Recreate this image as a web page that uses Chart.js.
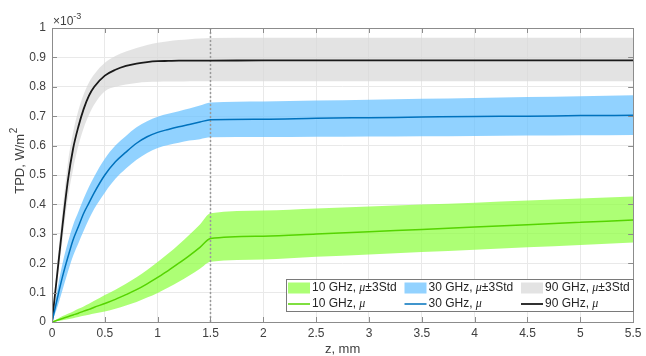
<!DOCTYPE html>
<html>
<head>
<meta charset="utf-8">
<script src="https://cdn.jsdelivr.net/npm/chart.js@4.4.1/dist/chart.umd.min.js"></script>
<style>
  html, body { margin: 0; padding: 0; background: #fff; }
  #wrap { width: 646px; height: 356px; }
</style>
</head>
<body>
<div id="wrap"><canvas id="tpdChart" width="646" height="356"></canvas></div>
<script>
'use strict';

// depth z, mm
const zPos = [0, 0.05, 0.1, 0.15, 0.2, 0.25, 0.3, 0.35, 0.4, 0.5, 0.6, 0.7, 0.8, 0.9, 1.0,
  1.1, 1.2, 1.3, 1.4, 1.5, 2, 2.5, 3, 3.5, 4, 4.5, 5, 5.5];

// TPD values in units of 1e-3 W/m^2
const mean10 = [0, 0.006, 0.012, 0.018, 0.024, 0.03, 0.037, 0.043, 0.05, 0.063, 0.077, 0.093, 0.11, 0.13, 0.152,
  0.175, 0.2, 0.226, 0.254, 0.284, 0.292, 0.299, 0.307, 0.315, 0.323, 0.331, 0.339, 0.347];
const upper10 = [0, 0.01, 0.02, 0.028, 0.036, 0.045, 0.053, 0.062, 0.072, 0.092, 0.11, 0.13, 0.152, 0.177, 0.204,
  0.233, 0.264, 0.297, 0.332, 0.37, 0.379, 0.386, 0.393, 0.4, 0.406, 0.413, 0.42, 0.427];
const lower10 = [0, 0.003, 0.006, 0.009, 0.013, 0.017, 0.021, 0.025, 0.029, 0.036, 0.045, 0.056, 0.068, 0.083, 0.099,
  0.117, 0.137, 0.158, 0.181, 0.205, 0.213, 0.222, 0.23, 0.238, 0.246, 0.254, 0.262, 0.27];

const mean30 = [0, 0.08, 0.155, 0.22, 0.28, 0.325, 0.37, 0.405, 0.44, 0.5, 0.545, 0.578, 0.608, 0.63, 0.645,
  0.655, 0.664, 0.672, 0.68, 0.688, 0.69, 0.693, 0.695, 0.697, 0.699, 0.7, 0.702, 0.703];
const upper30 = [0, 0.11, 0.2, 0.27, 0.33, 0.375, 0.42, 0.46, 0.495, 0.555, 0.6, 0.633, 0.662, 0.683, 0.698,
  0.708, 0.717, 0.726, 0.736, 0.747, 0.75, 0.753, 0.756, 0.759, 0.762, 0.765, 0.768, 0.771];
const lower30 = [0, 0.05, 0.11, 0.17, 0.225, 0.268, 0.31, 0.35, 0.385, 0.44, 0.487, 0.522, 0.552, 0.575, 0.592,
  0.602, 0.61, 0.617, 0.622, 0.628, 0.629, 0.63, 0.631, 0.632, 0.633, 0.634, 0.635, 0.636];

const mean90 = [0, 0.165, 0.33, 0.48, 0.59, 0.665, 0.725, 0.77, 0.8, 0.838, 0.858, 0.871, 0.879, 0.884, 0.887,
  0.888, 0.889, 0.889, 0.889, 0.889, 0.89, 0.89, 0.89, 0.89, 0.89, 0.89, 0.89, 0.89];
const upper90 = [0, 0.2, 0.38, 0.54, 0.645, 0.72, 0.775, 0.815, 0.843, 0.882, 0.905, 0.92, 0.932, 0.942, 0.95,
  0.955, 0.959, 0.962, 0.964, 0.966, 0.967, 0.967, 0.967, 0.967, 0.967, 0.967, 0.967, 0.967];
const lower90 = [0, 0.14, 0.28, 0.42, 0.52, 0.6, 0.66, 0.705, 0.74, 0.785, 0.8, 0.808, 0.813, 0.816, 0.817,
  0.818, 0.818, 0.819, 0.819, 0.819, 0.819, 0.819, 0.819, 0.819, 0.819, 0.819, 0.819, 0.819];

// dotted boundary line at z = 1.5 mm
const boundaryZ = [1.5, 1.5];
const boundaryY = [0, 1];

const freqNames = ['10 GHz', '30 GHz', '90 GHz'];
const xTickStep = 0.5;
const yTickStep = 0.1;

const lineColors = ['#55d400', '#0072bd', '#1a1a1a'],
  bandFills = ['rgba(138,255,58,0.7)', 'rgba(99,191,255,0.7)', 'rgba(215,215,215,0.7)'],
  bandSwatch = ['#adff75', '#92d2ff', '#e3e3e3'],
  axisColor = '#8c8c8c',
  textColor = '#404040',
  fontFamily = '"Liberation Sans", Arial, Helvetica, sans-serif';

const toPoints = (xs, ys) => xs.map((x, i) => ({ x: x, y: ys[i] }));
const tickText = v => String(Math.round(v * 100) / 100);

const bandSets = [[upper10, lower10], [upper30, lower30], [upper90, lower90]],
  meanSets = [mean10, mean30, mean90];

let datasets = [];

meanSets.forEach((m, i) => {
  datasets.push({
    label: freqNames[i] + ' mean',
    data: toPoints(zPos, m),
    borderColor: lineColors[i],
    borderWidth: i === 2 ? 1.8 : 1.5,
    fill: false,
    order: 1
  });
});

datasets.push({
  label: 'boundary',
  data: toPoints(boundaryZ, boundaryY),
  borderColor: '#9a9a9a',
  borderWidth: 1.5,
  borderDash: [2, 2],
  tension: 0,
  cubicInterpolationMode: 'default',
  fill: false,
  order: 2
});

bandSets.forEach(([up, lo], i) => {
  datasets.push({
    label: freqNames[i] + ' upper',
    data: toPoints(zPos, up),
    borderWidth: 0,
    borderColor: 'transparent',
    backgroundColor: bandFills[i],
    fill: '+1',
    order: 3 + i * 2
  });
  datasets.push({
    label: freqNames[i] + ' lower',
    data: toPoints(zPos, lo),
    borderWidth: 0,
    borderColor: 'transparent',
    fill: false,
    order: 4 + i * 2
  });
});

// box, inward ticks, exponent, axis titles and legend
const matlabFrame = {
  id: 'matlabFrame',
  afterDraw(chart) {
    const { ctx, chartArea: a, scales: { x, y } } = chart;
    ctx.save();

    ctx.strokeStyle = axisColor;
    ctx.lineWidth = 1;
    ctx.strokeRect(Math.round(a.left) + 0.5, Math.round(a.top) + 0.5,
      Math.round(a.width), Math.round(a.height));

    const tl = 5;
    ctx.beginPath();
    x.ticks.forEach(t => {
      const px = Math.round(x.getPixelForValue(t.value)) + 0.5;
      ctx.moveTo(px, a.bottom); ctx.lineTo(px, a.bottom - tl);
      ctx.moveTo(px, a.top); ctx.lineTo(px, a.top + tl);
    });
    y.ticks.forEach(t => {
      const py = Math.round(y.getPixelForValue(t.value)) + 0.5;
      ctx.moveTo(a.left, py); ctx.lineTo(a.left + tl, py);
      ctx.moveTo(a.right, py); ctx.lineTo(a.right - tl, py);
    });
    ctx.stroke();

    // exponent
    ctx.fillStyle = textColor;
    ctx.textBaseline = 'alphabetic';
    ctx.textAlign = 'left';
    ctx.font = '12px ' + fontFamily;
    ctx.fillText('\u00d710', a.left + 1, a.top - 3);
    const wx = ctx.measureText('\u00d710').width;
    ctx.font = '9px ' + fontFamily;
    ctx.fillText('-3', a.left + 1 + wx, a.top - 9);

    // x title
    ctx.font = '13px ' + fontFamily;
    ctx.textAlign = 'center';
    ctx.textBaseline = 'middle';
    ctx.fillText('z, mm', (a.left + a.right) / 2, 349);

    // y title
    ctx.save();
    ctx.translate(20, 161);
    ctx.rotate(-Math.PI / 2);
    ctx.font = '13px ' + fontFamily;
    const main = 'TPD, W/m';
    const wMain = ctx.measureText(main).width;
    ctx.font = '10px ' + fontFamily;
    const wSup = ctx.measureText('2').width;
    const start = -(wMain + wSup) / 2;
    ctx.textAlign = 'left';
    ctx.font = '13px ' + fontFamily;
    ctx.fillText(main, start, 0);
    ctx.font = '10px ' + fontFamily;
    ctx.fillText('2', start + wMain + 0.5, -6);
    ctx.restore();

    // legend
    const boxW = 347, boxH = 32;
    const bx = Math.round(a.right - boxW) + 0.5, by = Math.round(a.bottom - 11.5 - boxH) + 0.5;
    ctx.fillStyle = '#fff';
    ctx.fillRect(bx, by, boxW, boxH);
    ctx.strokeStyle = '#7a7a7a';
    ctx.strokeRect(bx, by, boxW, boxH);

    const colW = 116.5, swW = 22, swH = 11;
    const row1 = by + 8.5, row2 = by + 24.5;
    ctx.textBaseline = 'middle';
    ctx.textAlign = 'left';

    const drawLabel = (tx, ty, name, band) => {
      ctx.fillStyle = '#262626';
      ctx.font = '12px ' + fontFamily;
      const head = name + ', ';
      ctx.fillText(head, tx, ty);
      let cx = tx + ctx.measureText(head).width;
      ctx.font = 'italic 12px "Liberation Serif", "Times New Roman", serif';
      ctx.fillText('\u03bc', cx, ty);
      cx += ctx.measureText('\u03bc').width;
      if (band) {
        ctx.font = '12px ' + fontFamily;
        ctx.fillText('\u00b13Std', cx, ty);
      }
    };

    freqNames.forEach((name, i) => {
      const cx = bx + 1.5 + i * colW;
      ctx.fillStyle = bandSwatch[i];
      ctx.fillRect(cx, row1 - swH / 2, swW, swH);
      drawLabel(cx + swW + 2, row1, name, true);

      ctx.strokeStyle = lineColors[i];
      ctx.lineWidth = i === 2 ? 1.8 : 1.5;
      ctx.beginPath();
      ctx.moveTo(cx, row2); ctx.lineTo(cx + swW, row2);
      ctx.stroke();
      drawLabel(cx + swW + 2, row2, name, false);
    });

    ctx.restore();
  }
};

const ctx = document.getElementById('tpdChart').getContext('2d');

const chart = new Chart(ctx, {
  type: 'line',
  data: { datasets: datasets },
  options: {
    responsive: false,
    animation: false,
    events: [],
    layout: { autoPadding: false, padding: { left: 0, top: 28, right: 8, bottom: 0 } },
    elements: {
      point: { radius: 0 },
      line: { cubicInterpolationMode: 'monotone' }
    },
    plugins: {
      legend: { display: false },
      tooltip: { enabled: false },
      filler: { propagate: false }
    },
    scales: {
      x: {
        type: 'linear',
        min: 0,
        max: 5.5,
        afterFit: s => { s.height = 34; },
        ticks: {
          stepSize: xTickStep, padding: 4.5, color: textColor, maxRotation: 0,
          font: { family: fontFamily, size: 12 },
          callback: v => tickText(v)
        },
        grid: { color: '#e9e9e9', drawTicks: false },
        border: { display: false }
      },
      y: {
        min: 0,
        max: 1,
        afterFit: s => { s.width = 52; },
        ticks: {
          stepSize: yTickStep, padding: 6, color: textColor,
          font: { family: fontFamily, size: 12 },
          callback: v => tickText(v)
        },
        grid: { color: '#e9e9e9', drawTicks: false },
        border: { display: false }
      }
    }
  },
  plugins: [matlabFrame]
});
</script>
</body>
</html>
